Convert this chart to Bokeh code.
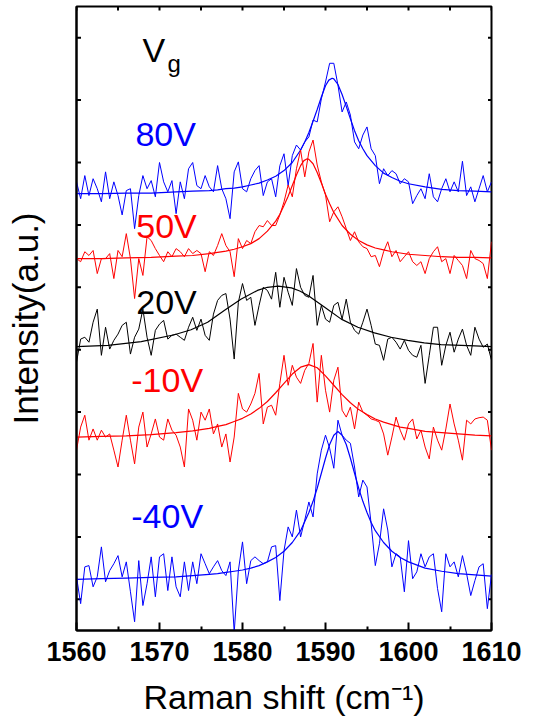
import numpy as np
from math import pi
from bokeh.plotting import figure
from bokeh.models import Range1d, FixedTicker, Label
from bokeh.embed import file_html
from bokeh.resources import INLINE

FONT = "Liberation Sans"

# ---------------- data ----------------
raman_shift = np.arange(1560.0, 1610.01, 0.5)

int_80V = [7.19, 6.92, 7.29, 6.97, 7.24, 7.08, 6.87, 7.35, 6.92, 7.19,
           6.97, 6.66, 7.05, 7.08, 6.44, 6.97, 7.29, 7.08, 7.21, 6.95,
           7.50, 7.19, 7.03, 7.21, 6.68, 7.19, 6.92, 7.40, 7.50, 7.13,
           7.08, 7.29, 7.11, 7.03, 7.45, 7.08, 6.92, 6.60, 7.35, 7.51,
           7.08, 7.03, 7.24, 7.37, 7.45, 6.97, 7.19, 7.24, 6.95, 7.45,
           7.64, 7.13, 7.61, 7.78, 7.70, 7.83, 7.91, 8.18, 8.15, 8.52,
           8.79, 9.09, 9.09, 8.74, 8.31, 8.47, 8.26, 7.83, 7.72, 7.94,
           8.07, 7.72, 7.61, 7.16, 7.40, 7.29, 7.37, 7.32, 7.16, 7.24,
           7.19, 6.84, 6.97, 7.08, 6.92, 7.32, 6.95, 6.87, 7.08, 7.24,
           7.03, 7.19, 7.03, 7.52, 6.97, 7.11, 6.87, 7.08, 7.29, 7.03,
           7.19]

int_50V = [5.96, 5.91, 6.07, 6.01, 6.09, 5.72, 5.96, 5.96, 6.04, 5.64,
           6.09, 5.99, 6.36, 5.96, 5.32, 5.96, 5.69, 6.31, 6.25, 6.12,
           6.01, 5.91, 6.07, 5.99, 6.12, 6.07, 5.99, 6.12, 6.04, 6.09,
           6.04, 5.75, 6.07, 6.01, 6.17, 6.36, 6.17, 6.07, 5.67, 6.28,
           6.12, 6.25, 6.20, 6.39, 6.49, 6.47, 6.57, 6.49, 6.49, 6.66,
           6.87, 7.14, 6.95, 7.40, 7.70, 7.27, 7.67, 7.86, 7.46, 7.19,
           6.98, 6.55, 6.71, 6.79, 6.63, 6.44, 6.25, 6.39, 6.23, 6.15,
           6.12, 5.99, 6.01, 5.83, 6.07, 6.23, 5.99, 6.09, 5.91, 5.99,
           6.07, 5.91, 5.85, 5.91, 5.72, 5.96, 6.07, 6.15, 5.91, 5.96,
           5.72, 6.01, 5.93, 5.85, 5.64, 6.09, 5.96, 5.93, 5.88, 5.64,
           6.23]

int_20V = [4.30, 4.67, 4.70, 4.62, 4.94, 5.15, 4.41, 4.86, 4.51, 4.65,
           4.75, 4.89, 4.94, 4.43, 4.70, 4.83, 5.15, 4.70, 4.41, 4.81,
           4.91, 4.97, 4.67, 4.73, 4.75, 4.70, 4.65, 4.86, 5.02, 4.81,
           4.99, 4.73, 4.65, 5.07, 5.29, 5.37, 5.40, 4.99, 4.35, 5.26,
           5.56, 5.29, 5.34, 4.89, 5.21, 5.50, 5.45, 5.31, 5.74, 5.18,
           5.66, 5.42, 5.21, 5.80, 5.50, 5.37, 5.34, 5.69, 4.89, 5.21,
           4.99, 4.94, 5.21, 5.26, 4.99, 5.31, 4.94, 4.81, 4.75, 4.94,
           5.15, 4.89, 4.59, 4.57, 4.33, 4.67, 4.70, 4.62, 4.51, 4.65,
           4.49, 4.41, 4.38, 4.57, 3.96, 4.41, 4.86, 4.86, 4.25, 4.57,
           4.78, 4.46, 4.67, 4.83, 4.57, 4.41, 4.86, 4.67, 4.54, 4.59,
           4.33]

int_m10V = [2.89, 3.26, 3.45, 3.05, 3.23, 3.05, 3.21, 3.10, 3.15, 2.89,
            2.62, 3.05, 3.45, 3.05, 2.67, 3.26, 3.50, 2.94, 3.15, 3.39,
            3.10, 3.05, 3.39, 3.21, 3.13, 2.94, 2.62, 3.55, 3.37, 3.05,
            3.50, 3.37, 3.55, 3.15, 3.31, 2.94, 3.15, 2.70, 3.10, 3.80,
            3.55, 3.50, 3.63, 3.80, 4.12, 3.31, 3.58, 3.61, 3.45, 3.96,
            4.41, 3.93, 4.25, 4.06, 3.96, 4.17, 4.28, 4.60, 3.66, 4.41,
            3.85, 3.50, 4.01, 4.22, 3.53, 3.42, 3.58, 3.23, 3.66, 3.50,
            3.45, 3.39, 3.37, 3.34, 3.15, 2.81, 3.10, 3.42, 3.21, 3.05,
            3.31, 3.39, 3.07, 3.21, 2.94, 2.75, 3.26, 3.05, 2.89, 3.23,
            3.63, 3.31, 3.05, 2.73, 3.37, 3.31, 3.39, 3.41, 3.42, 3.37,
            2.89]

int_m40V = [0.86, 0.43, 1.02, 1.04, 0.70, 0.86, 1.34, 0.78, 0.96, 1.07,
            1.20, 0.86, 1.10, 0.62, 0.14, 1.12, 0.40, 0.75, 1.18, 0.54,
            1.18, 1.23, 0.64, 1.18, 0.70, 0.54, 1.10, 0.64, 1.10, 0.75,
            1.23, 1.07, 0.91, 1.02, 1.12, 0.96, 0.88, 1.10, -0.03, 0.96,
            1.42, 0.75, 1.12, 1.18, 1.12, 1.07, 1.10, 1.34, 1.36, 0.48,
            1.28, 1.66, 1.50, 1.93, 1.50, 1.77, 2.06, 1.82, 2.51, 2.89,
            3.13, 2.92, 2.60, 3.37, 3.13, 3.05, 3.00, 2.62, 2.14, 2.41,
            2.30, 1.71, 1.04, 1.39, 1.95, 1.61, 1.02, 1.23, 1.18, 0.62,
            1.44, 0.83, 0.94, 1.23, 1.02, 1.18, 1.23, 0.67, 0.30, 1.23,
            1.02, 1.10, 0.86, 1.20, 0.91, 0.56, 0.80, 1.02, 1.07, 0.35,
            0.90]

# fitted curves
fit80_x = [1560, 1563, 1566, 1569, 1572, 1574, 1576, 1577, 1578, 1579, 1580, 1581, 1582, 1583, 1584,
           1585, 1586, 1587, 1587.5, 1588, 1588.5, 1589, 1589.5, 1590, 1590.4, 1590.8, 1591, 1591.5,
           1592, 1592.5, 1593, 1593.5, 1594, 1594.5, 1595, 1596, 1597, 1598, 1599, 1600, 1602, 1604,
           1606, 1608, 1610]
fit80_y = [7.00, 7.00, 7.01, 7.01, 7.03, 7.04, 7.05, 7.06, 7.08, 7.09, 7.11, 7.14, 7.17, 7.22, 7.28,
           7.37, 7.50, 7.70, 7.83, 7.98, 8.16, 8.35, 8.55, 8.73, 8.82, 8.85, 8.84, 8.75,
           8.59, 8.40, 8.20, 8.01, 7.85, 7.72, 7.61, 7.45, 7.33, 7.26, 7.20, 7.16, 7.11, 7.07,
           7.05, 7.04, 7.03]

fit50_x = [1560, 1563, 1566, 1569, 1572, 1574, 1576, 1577, 1578, 1579, 1580, 1581, 1582, 1583, 1584,
           1584.5, 1585, 1585.5, 1586, 1586.5, 1587, 1587.4, 1587.8, 1588, 1588.5, 1589, 1589.5, 1590,
           1590.5, 1591, 1592, 1593, 1594, 1595, 1596, 1597, 1598, 1599, 1600, 1602, 1604, 1606, 1608, 1610]
fit50_y = [5.96, 5.96, 5.97, 5.98, 6.00, 6.01, 6.04, 6.06, 6.08, 6.11, 6.15, 6.20, 6.28, 6.40, 6.56,
           6.67, 6.81, 6.96, 7.13, 7.30, 7.45, 7.53, 7.56, 7.55, 7.48, 7.34, 7.17, 6.99,
           6.84, 6.70, 6.49, 6.35, 6.25, 6.18, 6.13, 6.10, 6.07, 6.05, 6.03, 6.01, 5.99, 5.98, 5.98, 5.97]

fit20_x = [1560, 1563.8, 1567.8, 1571.8, 1573.8, 1575.8, 1577.8, 1579.8, 1581.8, 1583, 1584.3, 1585.9,
           1586.9, 1587.9, 1589.9, 1591.9, 1593.9, 1595.9, 1597.9, 1599.9, 1601.9, 1603.9, 1608, 1610]
fit20_y = [4.55, 4.57, 4.63, 4.74, 4.82, 4.94, 5.13, 5.31, 5.45, 5.50, 5.52, 5.49,
           5.44, 5.37, 5.18, 4.99, 4.86, 4.77, 4.70, 4.65, 4.61, 4.58, 4.56, 4.55]

fitm10_x = [1560, 1563, 1566, 1569, 1572, 1574, 1576, 1577, 1578, 1579, 1580, 1581, 1582, 1583, 1584,
            1585, 1586, 1587, 1588, 1589, 1590, 1591, 1592, 1593, 1594, 1595, 1596, 1597, 1598, 1599,
            1600, 1602, 1604, 1606, 1608, 1610]
fitm10_y = [3.10, 3.11, 3.12, 3.14, 3.17, 3.20, 3.24, 3.27, 3.30, 3.35, 3.40, 3.47, 3.56, 3.67, 3.81,
            3.96, 4.11, 4.22, 4.26, 4.21, 4.08, 3.93, 3.78, 3.65, 3.54, 3.46, 3.39, 3.34, 3.30, 3.26,
            3.24, 3.19, 3.17, 3.15, 3.13, 3.12]

fitm40_x = [1560, 1563, 1566, 1569, 1572, 1574, 1576, 1577, 1578, 1579, 1580, 1581, 1582, 1583, 1584,
            1585, 1586, 1587, 1588, 1588.5, 1589, 1589.5, 1590, 1590.5, 1591, 1591.5, 1592, 1592.5,
            1593, 1593.5, 1594, 1594.5, 1595, 1595.5, 1596, 1597, 1598, 1599, 1600, 1602, 1604, 1606,
            1608, 1610]
fitm40_y = [0.82, 0.83, 0.84, 0.85, 0.86, 0.88, 0.90, 0.91, 0.93, 0.95, 0.97, 1.00, 1.04, 1.10, 1.17,
            1.27, 1.41, 1.60, 1.89, 2.07, 2.28, 2.52, 2.76, 2.98, 3.13, 3.19, 3.13, 2.98,
            2.76, 2.52, 2.28, 2.07, 1.89, 1.73, 1.60, 1.41, 1.27, 1.17, 1.10, 1.00, 0.95, 0.91,
            0.89, 0.87]

x_major_ticks = [1560, 1570, 1580, 1590, 1600, 1610]
x_minor_ticks = [1565, 1575, 1585, 1595, 1605]
x_all_ticks = [1560, 1565, 1570, 1575, 1580, 1585, 1590, 1595, 1600, 1605, 1610]
y_ticks = [0.5, 1.5, 2.5, 3.5, 4.5, 5.5, 6.5, 7.5, 8.5, 9.5]

series_labels = ["80V", "50V", "20V", "-10V", "-40V"]
series_colors = ["#0000ff", "#ff0000", "#000000", "#ff0000", "#0000ff"]
label_x = [1567.1, 1567.2, 1567.2, 1566.6, 1566.6]
label_y = [7.95, 6.49, 5.26, 4.01, 1.84]

# ---------------- figure ----------------
X0, X1, Y0, Y1 = 1560, 1610, 0, 10
p = figure(width=533, height=724,
           x_range=Range1d(X0, X1), y_range=Range1d(Y0, Y1),
           output_backend="svg", toolbar_location=None,
           min_border_left=76, min_border_right=42, min_border_top=6, min_border_bottom=94,
           background_fill_color="white", border_fill_color="white")
p.xgrid.grid_line_color = None
p.ygrid.grid_line_color = None
p.outline_line_color = "black"
p.outline_line_width = 2

# bottom axis
xb = p.xaxis[0]
xb.ticker = FixedTicker(ticks=x_major_ticks, minor_ticks=x_minor_ticks)
xb.axis_line_width = 2
xb.major_tick_in = 8
xb.major_tick_out = 0
xb.minor_tick_in = 4
xb.minor_tick_out = 0
xb.major_tick_line_width = 2
xb.minor_tick_line_width = 2
xb.major_label_text_font = FONT
xb.major_label_text_font_style = "bold"
xb.major_label_text_font_size = "27px"
xb.major_label_text_color = "black"
xb.major_label_standoff = 11
xb.axis_label = "Raman shift (cm\u207b\u00b9)"
xb.axis_label_text_font = FONT
xb.axis_label_text_font_style = "normal"
xb.axis_label_text_font_size = "34px"
xb.axis_label_text_color = "black"
xb.axis_label_standoff = 14

# left axis: title only (ticks drawn as inward marks below)
yl = p.yaxis[0]
yl.ticker = FixedTicker(ticks=[])
yl.axis_line_width = 2
yl.axis_label = "Intensity(a.u.)"
yl.axis_label_text_font = FONT
yl.axis_label_text_font_style = "normal"
yl.axis_label_text_font_size = "35px"
yl.axis_label_text_color = "black"
yl.axis_label_standoff = 32

# inward tick marks on the left, right and top edges (half of each dash is clipped by the frame)
p.scatter([X0] * len(y_ticks), y_ticks, marker="dash", size=9, line_color="black", line_width=2)
p.scatter([X1] * len(y_ticks), y_ticks, marker="dash", size=7, line_color="black", line_width=2)
p.scatter(x_all_ticks, [Y1] * len(x_all_ticks), marker="dash", angle=pi / 2, size=8,
          line_color="black", line_width=2)

# spectra and fits
spectra = [int_80V, int_50V, int_20V, int_m10V, int_m40V]
fits = [(fit80_x, fit80_y), (fit50_x, fit50_y), (fit20_x, fit20_y),
        (fitm10_x, fitm10_y), (fitm40_x, fitm40_y)]
for data, (fx, fy), col in zip(spectra, fits, series_colors):
    p.line(raman_shift, data, line_color=col, line_width=1)
    p.line(fx, fy, line_color=col, line_width=1.2)

# series labels
for txt, lx, ly, col in zip(series_labels, label_x, label_y, series_colors):
    p.add_layout(Label(x=lx, y=ly, text=txt, text_color=col, text_font=FONT,
                       text_font_size="34px", text_align="left", text_baseline="alphabetic"))

p.add_layout(Label(x=1567.95, y=9.30, text="V", text_color="black", text_font=FONT,
                   text_font_size="34px", text_align="left", text_baseline="alphabetic"))
p.add_layout(Label(x=1570.96, y=9.09, text="g", text_color="black", text_font=FONT,
                   text_font_size="24px", text_align="left", text_baseline="alphabetic"))

open("out.html", "w").write(file_html(p, INLINE))
